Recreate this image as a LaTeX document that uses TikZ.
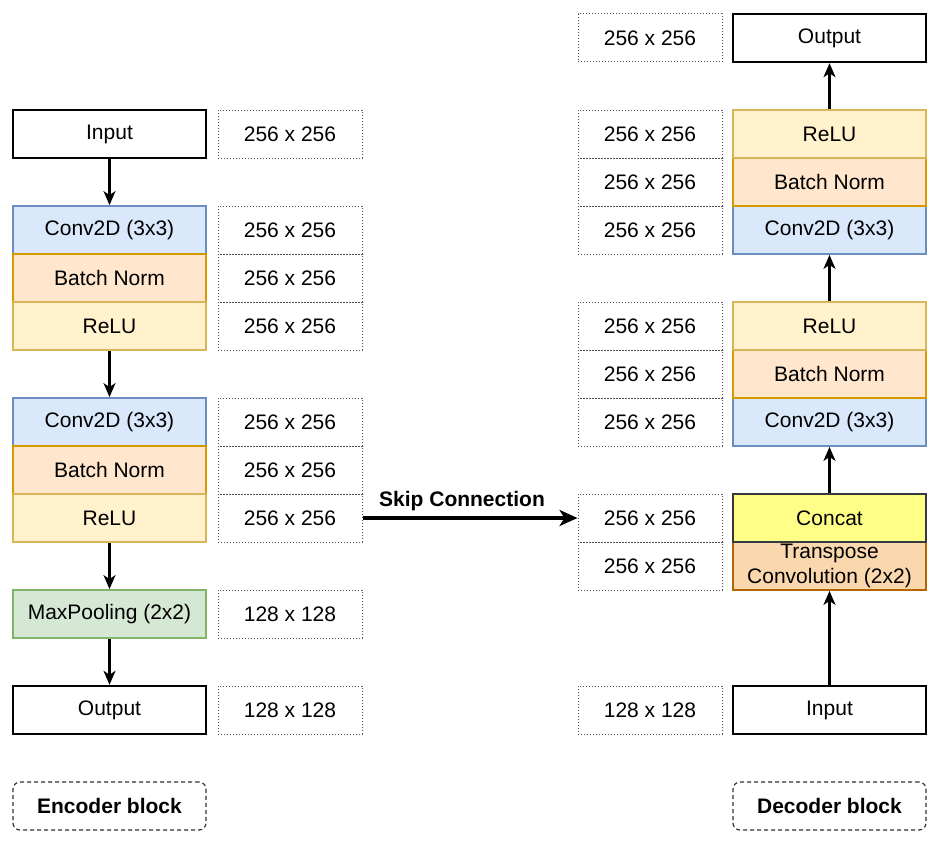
\documentclass[tikz,border=0pt]{standalone}
\usepackage{fontspec}
\setmainfont{Liberation Sans}
\usetikzlibrary{arrows.meta}
\definecolor{convF}{HTML}{DAE8FC}\definecolor{convS}{HTML}{6C8EBF}
\definecolor{bnF}{HTML}{FFE6CC}\definecolor{bnS}{HTML}{D79B00}
\definecolor{reluF}{HTML}{FFF2CC}\definecolor{reluS}{HTML}{D6B656}
\definecolor{poolF}{HTML}{D5E8D4}\definecolor{poolS}{HTML}{82B366}
\definecolor{catF}{HTML}{FFFF88}\definecolor{catS}{HTML}{36393D}
\definecolor{trF}{HTML}{FAD7AC}\definecolor{trS}{HTML}{B46504}
\tikzset{
  base/.style={rectangle, minimum width=193pt, minimum height=48pt, inner sep=0pt, font=\fontsize{21}{26}\selectfont, line width=1.8pt},
  plain/.style={base, draw=black, fill=white, line width=2.4pt},
  convbox/.style={base, draw=convS, fill=convF},
  bnbox/.style={base, draw=bnS, fill=bnF},
  relubox/.style={base, draw=reluS, fill=reluF},
  poolbox/.style={base, draw=poolS, fill=poolF},
  catbox/.style={base, draw=catS, fill=catF},
  trbox/.style={base, draw=trS, fill=trF, align=center, font=\fontsize{21}{26}\selectfont},
  sizebox/.style={rectangle, minimum width=144pt, minimum height=48pt, inner sep=0pt, draw=black!70, dash pattern=on 1.2pt off 1.8pt, line width=1pt, font=\fontsize{21}{26}\selectfont},
  blockbox/.style={rectangle, rounded corners=7pt, minimum width=193pt, minimum height=48pt, inner sep=0pt, draw=black!80, dash pattern=on 4pt off 3pt, line width=1.2pt, font=\bfseries\fontsize{21}{26}\selectfont},
  arr/.style={-{Stealth[length=14pt,width=12pt,inset=4pt]}, line width=2.2pt},
  skip/.style={-{Stealth[length=18pt,width=16pt,inset=5pt]}, line width=3.2pt}
}
\begin{document}
\begin{tikzpicture}[x=1pt,y=-1pt]
\useasboundingbox (0,0) rectangle (939,843);
\def\lx{109.5}\def\ls{290}\def\rs{650}\def\rx{829.5}
% left column
\node[plain] (lin) at (\lx,134) {Input};
\node[sizebox] (sl1) at (\ls,134) {256 x 256};
\node[convbox] (lc1) at (\lx,230) {Conv2D (3x3)};
\node[bnbox] (lb1) at (\lx,278) {Batch Norm};
\node[relubox] (lr1) at (\lx,326) {ReLU};
\node[sizebox] (sl2) at (\ls,230) {256 x 256};
\node[sizebox] (sl3) at (\ls,278) {256 x 256};
\node[sizebox] (sl4) at (\ls,326) {256 x 256};
\node[convbox] (lc2) at (\lx,422) {Conv2D (3x3)};
\node[bnbox] (lb2) at (\lx,470) {Batch Norm};
\node[relubox] (lr2) at (\lx,518) {ReLU};
\node[sizebox] (sl5) at (\ls,422) {256 x 256};
\node[sizebox] (sl6) at (\ls,470) {256 x 256};
\node[sizebox] (sl7) at (\ls,518) {256 x 256};
\node[poolbox] (lp) at (\lx,614) {MaxPooling (2x2)};
\node[sizebox] (sl8) at (\ls,614) {128 x 128};
\node[plain] (lout) at (\lx,710) {Output};
\node[sizebox] (sl9) at (\ls,710) {128 x 128};
\node[blockbox] (enc) at (\lx,806) {Encoder block};
% right column
\node[sizebox] (sr0) at (\rs,38) {256 x 256};
\node[plain] (rout) at (\rx,38) {Output};
\node[sizebox] (sr1) at (\rs,134) {256 x 256};
\node[sizebox] (sr2) at (\rs,182) {256 x 256};
\node[sizebox] (sr3) at (\rs,230) {256 x 256};
\node[convbox] (rc2) at (\rx,230) {Conv2D (3x3)};
\node[bnbox] (rb2) at (\rx,182) {Batch Norm};
\node[relubox] (rr2) at (\rx,134) {ReLU};
\node[sizebox] (sr4) at (\rs,326) {256 x 256};
\node[sizebox] (sr5) at (\rs,374) {256 x 256};
\node[sizebox] (sr6) at (\rs,422) {256 x 256};
\node[convbox] (rc1) at (\rx,422) {Conv2D (3x3)};
\node[bnbox] (rb1) at (\rx,374) {Batch Norm};
\node[relubox] (rr1) at (\rx,326) {ReLU};
\node[sizebox] (sr7) at (\rs,518) {256 x 256};
\node[sizebox] (sr8) at (\rs,566) {256 x 256};
\node[trbox] (rt) at (\rx,566) {Transpose\\[-1pt]Convolution (2x2)};
\node[catbox, line width=2.2pt] (rcat) at (\rx,518) {Concat};
\node[sizebox] (sr9) at (\rs,710) {128 x 128};
\node[plain] (rin) at (\rx,710) {Input};
\node[blockbox] (dec) at (\rx,806) {Decoder block};
% arrows left
\draw[arr] (lin.south) -- (lc1.north);
\draw[arr] (lr1.south) -- (lc2.north);
\draw[arr] (lr2.south) -- (lp.north);
\draw[arr] (lp.south) -- (lout.north);
% arrows right
\draw[arr] (rin.north) -- (rt.south);
\draw[arr] (rcat.north) -- (rc1.south);
\draw[arr] (rr1.north) -- (rc2.south);
\draw[arr] (rr2.north) -- (rout.south);
% skip
\draw[skip] (sl7.east) -- node[above=2pt, xshift=-8pt, font=\bfseries\fontsize{21}{26}\selectfont] (skiplbl) {Skip Connection} (sr7.west);
\end{tikzpicture}
\end{document}
